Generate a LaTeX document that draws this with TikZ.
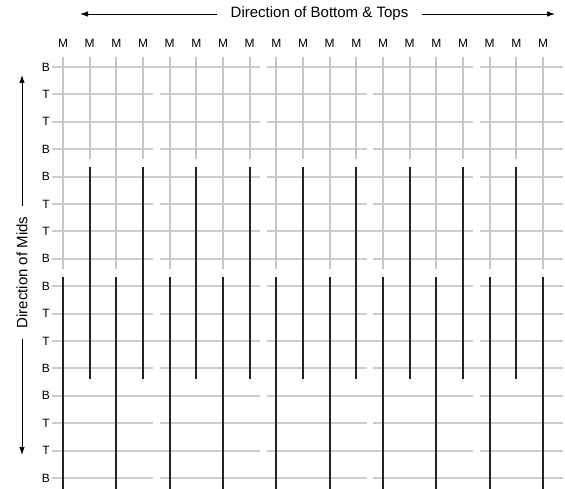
\documentclass[tikz,border=0pt]{standalone}
\usepackage{fontspec}
\setmainfont{Liberation Sans}
\usetikzlibrary{arrows.meta}
\definecolor{GRID-GREY}{RGB}{204, 204, 206}
\definecolor{POST-GREY}{RGB}{198, 198, 200}
\definecolor{MID-DARK}{RGB}{35, 35, 35}

\begin{document}
\begin{tikzpicture}[x=1pt, y=-1pt,
    lbl/.style={font=\fontsize{12}{14}\selectfont},
    dirlbl/.style={font=\fontsize{15}{18}\selectfont, inner xsep=14pt},
    rowline/.style={GRID-GREY, line width=2.1pt},
    postline/.style={POST-GREY, line width=2.1pt},
    midline/.style={MID-DARK, line width=2pt},
    dirarrow/.style={-{Latex[length=8pt,width=5.5pt]}, line width=0.9pt}]
  \useasboundingbox (0,0) rectangle (565,489);

  % Direction of Bottom & Tops
  \node[dirlbl] (dirbt) at (319.5,14) {Direction of Bottom \& Tops};
  \coordinate (btleft) at (80,14);
  \coordinate (btright) at (555,14);
  \draw[dirarrow] (dirbt) -- (btleft);
  \draw[dirarrow] (dirbt) -- (btright);

  % Direction of Mids
  \node[dirlbl, rotate=90, inner xsep=10pt] (dirmids) at (22,272.5) {Direction of Mids};
  \coordinate (midsup) at (22,75);
  \coordinate (midsdown) at (22,455);
  \draw[dirarrow] (dirmids) -- (midsup);
  \draw[dirarrow] (dirmids) -- (midsdown);

  % Bottom & Tops rows (staggered, gaps every 8 columns)
  \foreach \t [count=\r from 0] in {B,T,T,B,B,T,T,B,B,T,T,B,B,T,T,B} {
    \pgfmathsetmacro\y{67+27.4*\r}
    \pgfmathsetmacro\ga{ifthenelse(mod(\r,2)==0,263.3,156.7)}
    \pgfmathsetmacro\gb{\ga+213.3}
    \node[lbl, anchor=east, inner sep=0pt] (row\r) at (50,\y) {\t};
    \draw[rowline] (52,\y) -- (\ga-3.3,\y) (\ga+3.3,\y) -- (\gb-3.3,\y)
      (\gb+3.3,\y) -- (563,\y);
  }

  % Mids: grey posts, then the dark runs
  \foreach \c in {0,...,18} {
    \pgfmathsetmacro\x{63+26.667*\c}
    \pgfmathsetmacro\gend{ifthenelse(mod(\c,2)==0,269,159)}
    \pgfmathsetmacro\dtop{\gend+8}
    \pgfmathsetmacro\dend{ifthenelse(mod(\c,2)==0,490,379)}
    \node[lbl] (m\c) at (\x,43.5) {M};
    \draw[postline] (\x,57) -- (\x,\gend);
    \draw[midline] (\x,\dtop) -- (\x,\dend);
  }
\end{tikzpicture}
\end{document}
